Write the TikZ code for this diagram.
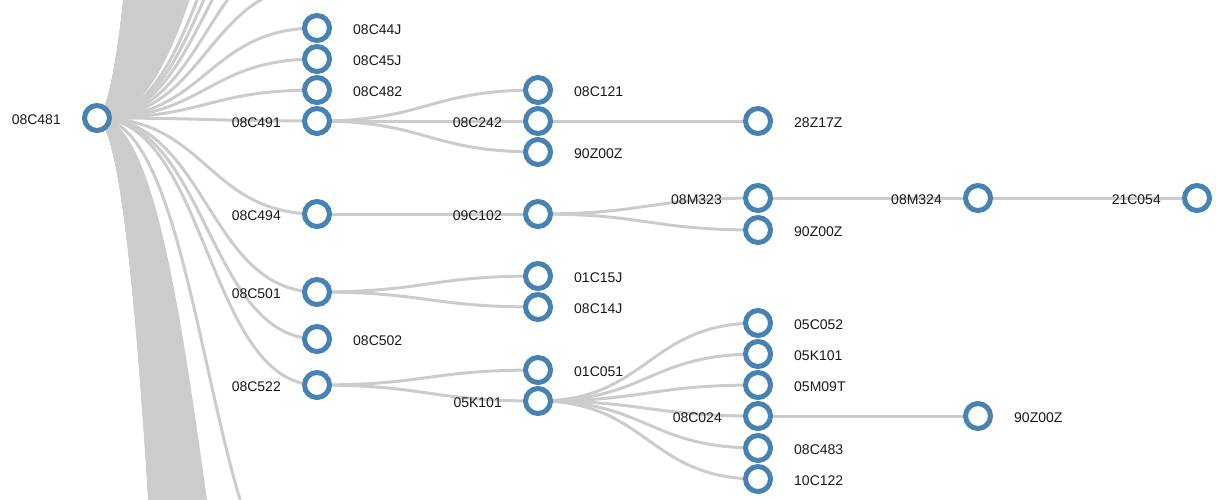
\documentclass[tikz,border=0pt]{standalone}
\usepackage{fontspec}
\setmainfont{Liberation Sans}
\definecolor{steel}{HTML}{4682B4}
\definecolor{linkgray}{HTML}{CCCCCC}
\pgfdeclarelayer{bg}
\pgfsetlayers{bg,main}
\newcommand\treelink[2]{\draw[link] (#1) .. controls +(110,0) and +(-110,0) .. (#2);}
\begin{document}
\begin{tikzpicture}[x=1pt,y=-1pt,
  tn/.style={circle, draw=steel, line width=5pt, fill=white, minimum size=25pt, inner sep=0pt},
  link/.style={draw=linkgray, line width=3pt},
  lbl/.style={font=\fontsize{14}{16}\selectfont, inner sep=0pt, text=black!90},
  lr/.style={lbl, anchor=west, xshift=36pt, yshift=-2pt},
  ll/.style={lbl, anchor=east, xshift=-36pt, yshift=-2pt}]
\useasboundingbox (0,0) rectangle (1216,499);
\clip (0,0) rectangle (1216,499);
% nodes
\node[tn] (root) at (97,118) {};
\node[tn] (n44J) at (317,28) {};
\node[tn] (n45J) at (317,59) {};
\node[tn] (n482) at (317,90) {};
\node[tn] (n491) at (317,121) {};
\node[tn] (n494) at (317,214) {};
\node[tn] (n501) at (317,292) {};
\node[tn] (n502) at (317,339) {};
\node[tn] (n522) at (317,385) {};
\node[tn] (n121) at (538,90) {};
\node[tn] (n242) at (538,121) {};
\node[tn] (n90a) at (538,152) {};
\node[tn] (n102) at (538,214) {};
\node[tn] (n15J) at (538,276) {};
\node[tn] (n14J) at (538,307) {};
\node[tn] (n051) at (538,370) {};
\node[tn] (n5K) at (538,401) {};
\node[tn] (n17Z) at (758,121) {};
\node[tn] (n323) at (758,198) {};
\node[tn] (n90b) at (758,230) {};
\node[tn] (n052) at (758,323) {};
\node[tn] (n5K2) at (758,354) {};
\node[tn] (n09T) at (758,385) {};
\node[tn] (n024) at (758,416) {};
\node[tn] (n483) at (758,448) {};
\node[tn] (n122) at (758,479) {};
\node[tn] (n324) at (978,198) {};
\node[tn] (n90c) at (978,416) {};
\node[tn] (n054) at (1197,198) {};
% labels
\node[ll] (t481) at (root.center) {08C481};
\node[lr] (t44J) at (n44J.center) {08C44J};
\node[lr] (t45J) at (n45J.center) {08C45J};
\node[lr] (t482) at (n482.center) {08C482};
\node[ll] (t491) at (n491.center) {08C491};
\node[ll] (t494) at (n494.center) {08C494};
\node[ll] (t501) at (n501.center) {08C501};
\node[lr] (t502) at (n502.center) {08C502};
\node[ll] (t522) at (n522.center) {08C522};
\node[lr] (t121) at (n121.center) {08C121};
\node[ll] (t242) at (n242.center) {08C242};
\node[lr] (t90a) at (n90a.center) {90Z00Z};
\node[ll] (t102) at (n102.center) {09C102};
\node[lr] (t15J) at (n15J.center) {01C15J};
\node[lr] (t14J) at (n14J.center) {08C14J};
\node[lr] (t051) at (n051.center) {01C051};
\node[ll] (t5K) at (n5K.center) {05K101};
\node[lr] (t17Z) at (n17Z.center) {28Z17Z};
\node[ll] (t323) at (n323.center) {08M323};
\node[lr] (t90b) at (n90b.center) {90Z00Z};
\node[lr] (t052) at (n052.center) {05C052};
\node[lr] (t5K2) at (n5K2.center) {05K101};
\node[lr] (t09T) at (n09T.center) {05M09T};
\node[ll] (t024) at (n024.center) {08C024};
\node[lr] (t483) at (n483.center) {08C483};
\node[lr] (t122) at (n122.center) {10C122};
\node[ll] (t324) at (n324.center) {08M324};
\node[lr] (t90c) at (n90c.center) {90Z00Z};
\node[ll] (t054) at (n054.center) {21C054};
% links
\begin{pgfonlayer}{bg}
\foreach \c in {n44J,n45J,n482,n491,n494,n501,n502,n522}{\treelink{root.center}{\c.center}}
\foreach \y [count=\k] in {-15,-56,-98,-133,-169}{
  \coordinate (ua\k) at (317,\y);
  \treelink{root.center}{ua\k}}
\foreach \k in {0,...,148}{
  \pgfmathsetmacro\yy{-236-31*\k}
  \coordinate (ub\k) at (317,\yy);
  \treelink{root.center}{ub\k}}
\coordinate (da1) at (317,612);
\treelink{root.center}{da1}
\foreach \k in {0,...,103}{
  \pgfmathsetmacro\yy{903+31*\k}
  \coordinate (db\k) at (317,\yy);
  \treelink{root.center}{db\k}}
\foreach \c in {n121,n242,n90a}{\treelink{n491.center}{\c.center}}
\treelink{n242.center}{n17Z.center}
\treelink{n494.center}{n102.center}
\foreach \c in {n323,n90b}{\treelink{n102.center}{\c.center}}
\treelink{n323.center}{n324.center}
\treelink{n324.center}{n054.center}
\foreach \c in {n15J,n14J}{\treelink{n501.center}{\c.center}}
\foreach \c in {n051,n5K}{\treelink{n522.center}{\c.center}}
\foreach \c in {n052,n5K2,n09T,n024,n483,n122}{\treelink{n5K.center}{\c.center}}
\treelink{n024.center}{n90c.center}
\end{pgfonlayer}
\end{tikzpicture}
\end{document}
